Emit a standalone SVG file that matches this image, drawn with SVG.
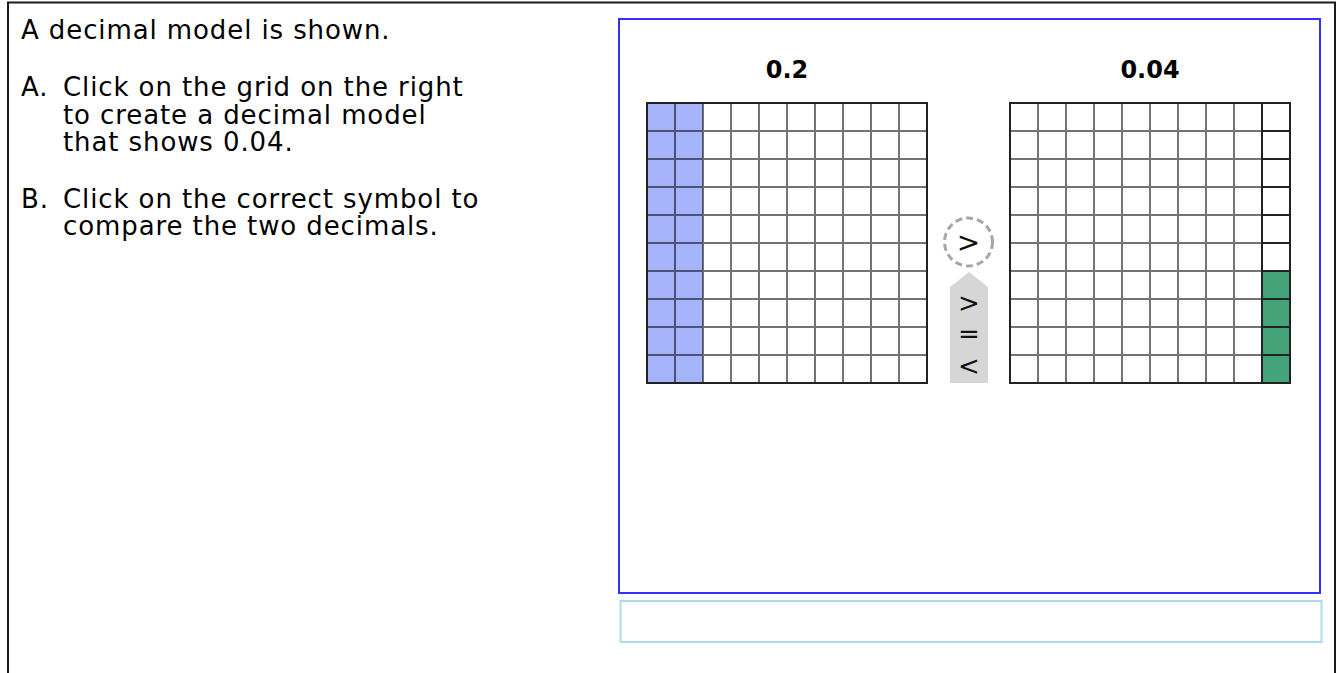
<svg xmlns="http://www.w3.org/2000/svg" width="1343" height="673" viewBox="0 0 1343 673">
<style>
.t{font-family:"DejaVu Sans",Verdana,sans-serif;font-size:26px;letter-spacing:0.9px;fill:#000}
.lbl{font-family:"DejaVu Sans",Verdana,sans-serif;font-size:24px;font-weight:bold;fill:#000;text-anchor:middle}
.sym{font-family:"DejaVu Sans",sans-serif;font-size:26px;fill:#111;text-anchor:middle;dominant-baseline:central}
.inner{fill:none;stroke:rgba(0,0,0,0.55);stroke-width:2}
.outer{fill:none;stroke:#222;stroke-width:2}
</style>
<rect width="1343" height="673" fill="#fff"/>
<g id="frame">
<rect x="8" y="2.5" width="1327" height="700" fill="none" stroke="#1a1a1a" stroke-width="2"/>
</g>
<g id="prompt">
<text class="t" x="21" y="39">A decimal model is shown.</text>
<text class="t" x="21" y="96">A.</text>
<text class="t" x="63" y="96">Click on the grid on the right</text>
<text class="t" x="63" y="124">to create a decimal model</text>
<text class="t" x="63" y="151">that shows 0.04.</text>
<text class="t" x="21" y="208">B.</text>
<text class="t" x="63" y="208">Click on the correct symbol to</text>
<text class="t" x="63" y="235">compare the two decimals.</text>
</g>
<g id="panel">
<rect x="619" y="19" width="701" height="574" fill="#fff" stroke="#3232ff" stroke-width="2"/>
</g>
<g id="grid-left">
<text class="lbl" x="787" y="78">0.2</text>
<rect x="647" y="103" width="280" height="280" fill="#fff"/>
<rect x="647" y="103" width="56" height="280" fill="#a6b4fc"/>
<path class="inner" d="M675 103V383M703 103V383M731 103V383M759 103V383M787 103V383M815 103V383M843 103V383M871 103V383M899 103V383M647 131H927M647 159H927M647 187H927M647 215H927M647 243H927M647 271H927M647 299H927M647 327H927M647 355H927"/>
<rect class="outer" x="647" y="103" width="280" height="280"/>
</g>
<g id="grid-right">
<text class="lbl" x="1150" y="78">0.04</text>
<rect x="1010" y="103" width="280" height="280" fill="#fff"/>
<rect x="1262" y="271" width="28" height="112" fill="#45a379"/>
<path class="inner" d="M1038 103V383M1066 103V383M1094 103V383M1122 103V383M1150 103V383M1178 103V383M1206 103V383M1234 103V383M1010 131H1262M1010 159H1262M1010 187H1262M1010 215H1262M1010 243H1262M1010 271H1262M1010 299H1262M1010 327H1262M1010 355H1262"/>
<path d="M1262 103V383M1262 131H1290M1262 159H1290M1262 187H1290M1262 215H1290M1262 243H1290M1262 271H1290M1262 299H1290M1262 327H1290M1262 355H1290" fill="none" stroke="#222" stroke-width="2"/>
<rect class="outer" x="1010" y="103" width="280" height="280"/>
</g>
<g id="selected-symbol">
<circle cx="968.5" cy="242" r="24" fill="#fff" stroke="#a6a6a6" stroke-width="3" stroke-dasharray="7 4"/>
<text class="sym" x="968.5" y="242" style="font-size:28px">&gt;</text>
</g>
<g id="symbol-choices">
<polygon points="950,287 969,272 988,287 988,383 950,383" fill="#d6d6d6"/>
<text class="sym" x="969" y="303">&gt;</text>
<text class="sym" x="969" y="334">=</text>
<text class="sym" x="969" y="366">&lt;</text>
</g>
<g id="answer-box">
<rect x="620.5" y="601" width="701" height="41" fill="#fff" stroke="#a9dbe8" stroke-width="2"/>
</g>
</svg>
